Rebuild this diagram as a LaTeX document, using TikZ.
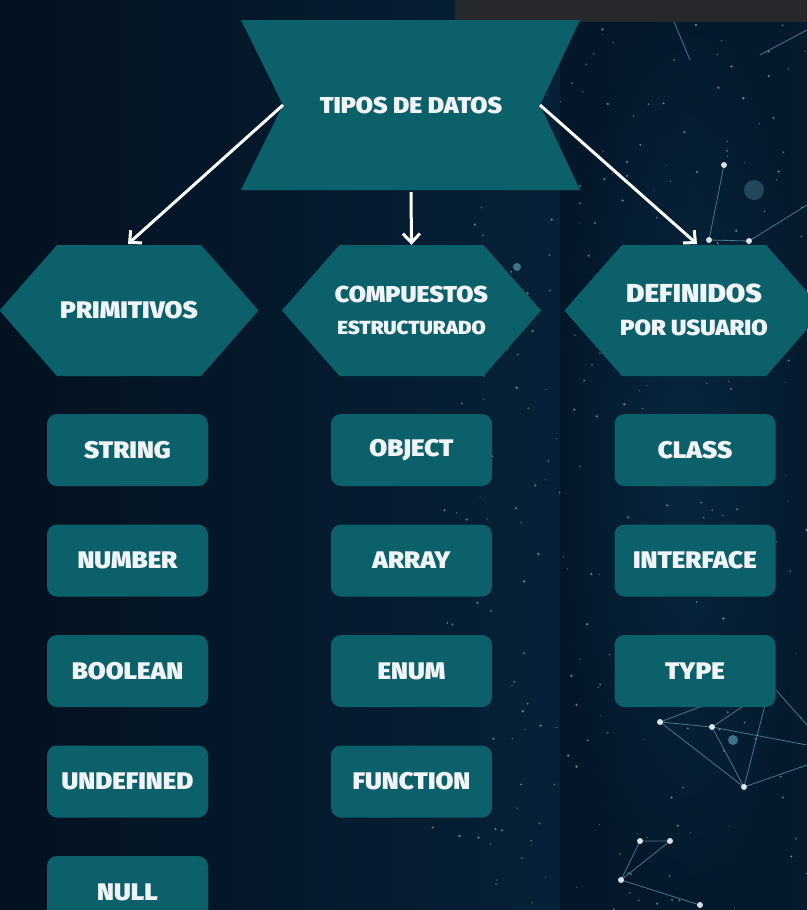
\documentclass[tikz,border=0pt]{standalone}
\usepackage{fontspec}
\newfontfamily\lblfont{Fira Sans Black}[FakeStretch=1.08]
\usetikzlibrary{arrows.meta}
\definecolor{bgdark}{RGB}{3,17,32}
\definecolor{bgblue}{RGB}{8,40,66}
\definecolor{tealbox}{RGB}{12,96,105}
\definecolor{labelwhite}{RGB}{240,244,246}
\definecolor{plexus}{RGB}{120,200,215}
\definecolor{barGray}{RGB}{38,40,44}
\tikzset{
  shapefill/.style={fill=tealbox},
  lbl/.style={text=labelwhite, font=\lblfont\fontsize{24}{26}\selectfont, align=center},
  hexlbl/.style={lbl, minimum width=259pt, minimum height=131pt, inner sep=0pt},
  item/.style={lbl, shapefill, rounded corners=10pt, minimum width=161pt, minimum height=72pt, inner sep=0pt},
  link/.style={draw=white, line width=3pt, -{Straight Barb[length=9pt,width=17pt,line width=3pt]}},
  net/.style={draw=plexus, line width=0.8pt, opacity=0.55},
  netdot/.style={fill=white, opacity=0.85}
}
\newcommand\hexshape[2]{%
  \fill[shapefill] (#1-129.5,#2) -- (#1-72,#2-65.5) -- (#1+72,#2-65.5)
    -- (#1+129.5,#2) -- (#1+72,#2+65.5) -- (#1-72,#2+65.5) -- cycle;}
\begin{document}
\begin{tikzpicture}[x=1pt,y=-1pt]
  % backdrop
  \useasboundingbox (0,0) rectangle (807,910);
  \shade[left color=bgdark, right color=bgblue] (0,0) rectangle (807,910);
  \shade[inner color=bgblue, outer color=bgdark, opacity=0.6] (560,0) rectangle (807,910);

  % star dust
  \pgfmathsetseed{7}
  \foreach \i in {1,...,320}{
    \pgfmathsetmacro\sx{430+377*rnd}
    \pgfmathsetmacro\sy{910*rnd}
    \pgfmathsetmacro\sr{0.5+0.9*rnd}
    \fill[white, opacity=0.4] (\sx,\sy) circle (\sr pt);
  }

  % plexus lines
  \draw[net] (724,165) -- (709,240) -- (749,241);
  \draw[net] (749,241) -- (807,205);
  \draw[net] (660,722) -- (712,727) -- (744,787) -- cycle;
  \draw[net] (660,722) -- (705,705);
  \draw[net] (712,727) -- (745,705);
  \draw[net] (744,787) -- (765,705);
  \draw[net] (744,787) -- (807,765);
  \draw[net] (712,727) -- (807,745);
  \draw[net] (776,690) -- (807,725);
  \draw[net] (640,841) -- (670,841) -- (621,880) -- cycle;
  \draw[net] (621,880) -- (700,905);
  \draw[net] (665,0) -- (690,60);
  \draw[net] (760,55) -- (807,30);
  \foreach \p in {(724,165),(709,240),(749,241),(712,727),(744,787),(640,841),(670,841),(621,880),(700,905),(660,722)}
    \fill[netdot] \p circle (3pt);
  \fill[plexus, opacity=0.5] (733,740) circle (5pt);
  \fill[plexus, opacity=0.25] (754,190) circle (10pt);
  \fill[plexus, opacity=0.5] (517,267) circle (4pt);

  % screen overlay bar
  \fill[barGray] (455,0) rectangle (807,22);

  % root banner
  \fill[shapefill] (241,20) -- (580,20) -- (540,105) -- (580,190)
    -- (241,190) -- (283,105) -- cycle;
  \node[lbl, font=\lblfont\fontsize{23}{25}\selectfont] (root) at (411,105) {TIPOS DE DATOS};
  \coordinate (rootL) at (283,105);
  \coordinate (rootR) at (540,105);
  \coordinate (rootB) at (411,192);

  % category hexagons
  \hexshape{129}{310.5}
  \hexshape{411.5}{310.5}
  \hexshape{694}{310.5}
  \node[hexlbl] (prim) at (129,310.5) {PRIMITIVOS};
  \node[hexlbl] (comp) at (411.5,310.5) {};
  \node[lbl] at (411.5,294) {\fontsize{23}{24}\selectfont COMPUESTOS};
  \node[lbl] at (411.5,328) {\fontsize{19}{21}\selectfont ESTRUCTURADO};
  \node[hexlbl] (defi) at (694,310.5) {};
  \node[lbl] at (694,293) {\fontsize{26}{27}\selectfont DEFINIDOS};
  \node[lbl] at (694,328) {\fontsize{22}{24}\selectfont POR USUARIO};

  % connectors
  \draw[link] (rootL) -- (128,244);
  \draw[link] (rootB) -- (comp.north);
  \draw[link] (rootR) -- (697,244);

  % primitive types
  \node[item] (string) at (127.5,450) {STRING};
  \node[item] (number) at (127.5,560.5) {NUMBER};
  \node[item] (boolean) at (127.5,671) {BOOLEAN};
  \node[item] (undef) at (127.5,781.5) {UNDEFINED};
  \node[item] (null) at (127.5,892) {NULL};

  % composite types
  \node[item] (object) at (411.5,450) {OBJECT};
  \node[item] (array) at (411.5,560.5) {ARRAY};
  \node[item] (enum) at (411.5,671) {ENUM};
  \node[item] (func) at (411.5,781.5) {FUNCTION};

  % user-defined types
  \node[item] (class) at (695,450) {CLASS};
  \node[item] (iface) at (695,560.5) {INTERFACE};
  \node[item] (type) at (695,671) {TYPE};
\end{tikzpicture}
\end{document}
